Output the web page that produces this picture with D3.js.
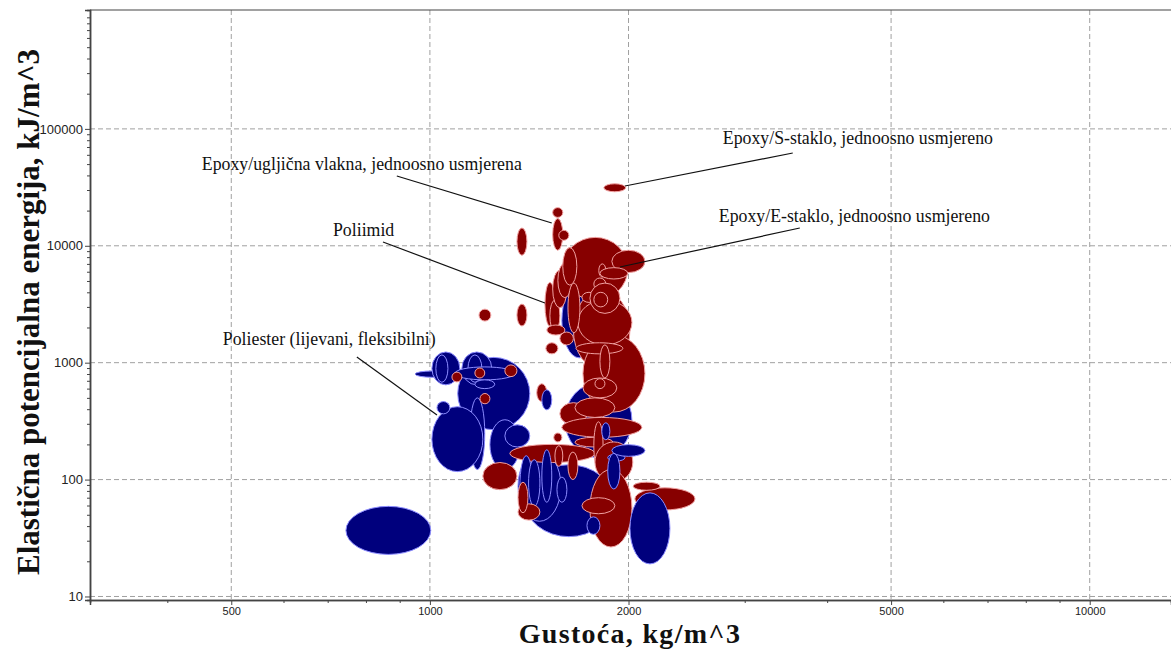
<!DOCTYPE html>
<html>
<head>
<meta charset="utf-8">
<script src="https://cdnjs.cloudflare.com/ajax/libs/d3/7.8.5/d3.min.js"></script>
<style>
  body { margin: 0; background: #fff; }
</style>
</head>
<body>
<script>
// ** Bubbles: density range (kg/m^3), energy range (kJ/m^3), family. Drawing order = array order.
var family = ['b','b','b','b','b','b','b','b','b','b','b','b','b','b',
  'r','r','r','r','r','r','b','r','r','r','r','r','r','r',
  'b','b','b','b','r','r','r','r','r','r','r','r','r','r','r','r','r','r','r','r','r','r','r','r','r','r','r','r','r','r','r','r','r','r','r','r','r','r','r','r','r','r',
  'b','b','b','b','b','b','b','b','b','b','r','r'];
var rhoLo = [746,1102,950,1007,1021,1118,1142,1091,1170,1150,1007,1233,1299,1025,
  1080,1170,1299,1191,1203,1452,1478,1355,1355,1187,1535,1535,1568,1835,
  1585,1602,1393,1360,1590,1650,1706,1676,1887,1494,1520,1535,1563,1590,1619,1504,1499,1574,1700,1803,1810,1772,1748,1772,1665,1810,1706,1779,1574,1659,1585,1659,1541,1322,1547,1619,1772,1779,1748,1700,2045,2033,1860,
  1860,1887,1822,2010,1369,1411,1478,1558,1730,1360,1360,1558];
var rhoHi = [1003,1417,1072,1110,1065,1241,1199,1345,1254,1211,1203,1369,1417,1072,
  1118,1211,1355,1233,1355,1504,1530,1403,1403,1237,1590,1590,1624,1980,
  1790,2024,1894,1580,1995,2010,2118,2024,2118,1547,1574,1613,1641,1670,1688,1602,1563,1650,1785,1848,1995,1848,1941,1860,1961,1874,1920,1842,1730,1907,2095,1894,1585,1779,1590,1676,1830,2030,2024,1907,2522,2232,1975,
  1941,2118,1874,2311,1431,1468,1530,1613,1810,1468,1408,1613];
var eLo = [22.9,267,750,646,680,646,680,713,600,122,117,122,190,365,
  685,740,760,445,82,465,395,8300,2060,2270,17500,9156,11140,29000,
  1100,154,32.5,44,3431,868,378,1418,5900,2060,1850,2950,3600,4606,1800,1725,1190,1418,3280,5400,5200,4175,2640,3000,1190,740,500,600,294,340,230,190,210,140,130,100,122,95,26.5,51,55,81,144,
  83,158,219,19,48,59,64,64,34,45,52,58];
var eHi = [59,1110,850,1235,1165,1235,1165,920,713,500,420,325,294,465,
  830,900,957,545,140,660,586,14200,3170,2870,21200,17100,13560,33900,
  4800,672,134,175,11800,4175,1725,3431,9156,4850,3431,6183,7100,9650,4800,2100,1480,1830,4000,7000,6500,5300,4800,4000,1480,1420,740,730,455,500,340,230,250,200,195,172,312,210,122,70,85,95,165,
  168,199,306,77,160,148,180,105,48,62,95,70];

// ** Labelled materials: label anchor and target, both in data units
var labelText = ['Epoxy/S-staklo, jednoosno usmjereno', 'Epoxy/E-staklo, jednoosno usmjereno',
  'Epoxy/uglji\u010dna vlakna, jednoosno usmjerena', 'Poliimid', 'Poliester (lijevani, fleksibilni)'];
var labelRho = [3548, 3636, 891, 849, 775];
var labelE = [62200, 14190, 39540, 10780, 1119];
var targetRho = [1975, 1941, 1530, 1494, 1025];
var targetE = [32480, 6588, 15670, 3241, 357];
var labelShift = [[-70, -9], [-81, -6], [-195, -6], [-50, -6], [-134, -12]];

// ** Ticks
var xMajor = [500, 1000, 2000, 5000, 10000];
var xMinor = [400, 600, 700, 800, 900, 3000, 4000, 6000, 7000, 8000, 9000];
var yMajor = [10, 100, 1000, 10000, 100000];
var yMinor = [];
[10, 100, 1000, 10000, 100000].forEach(function(d){
  for (var k = 2; k <= 9; k++) yMinor.push(d * k);
});

var W = 1171, H = 650;
var L = 90, R = 1171, T = 10, B = 600;

var svg = d3.select('body').append('svg')
  .attr('width', W).attr('height', H);

var x = d3.scaleLog().domain([305.4, 13280]).range([L, R]);
var y = d3.scaleLog().domain([9.33, 1.04e6]).range([B, T]);
var fill = d3.scaleOrdinal().domain(['b', 'r']).range(['#00007d', '#870000']);
var edge = d3.scaleOrdinal().domain(['b', 'r']).range(['#8c8cff', '#f0a0a0']);

//** Grid
var grid = svg.append('g').attr('stroke', '#a0a0a0').attr('stroke-dasharray', '5,3');
grid.selectAll('.gx').data(xMajor).enter().append('line')
  .attr('x1', function(d){ return x(d); }).attr('x2', function(d){ return x(d); })
  .attr('y1', T).attr('y2', B);
grid.selectAll('.gy').data(yMajor).enter().append('line')
  .attr('y1', function(d){ return y(d); }).attr('y2', function(d){ return y(d); })
  .attr('x1', L).attr('x2', R);

//** Bubbles
svg.append('g').selectAll('ellipse').data(family).enter().append('ellipse')
  .attr('cx', function(d, i){ return (x(rhoLo[i]) + x(rhoHi[i])) / 2; })
  .attr('cy', function(d, i){ return (y(eLo[i]) + y(eHi[i])) / 2; })
  .attr('rx', function(d, i){ return (x(rhoHi[i]) - x(rhoLo[i])) / 2; })
  .attr('ry', function(d, i){ return (y(eLo[i]) - y(eHi[i])) / 2; })
  .attr('fill', function(d){ return fill(d); })
  .attr('stroke', function(d){ return edge(d); })
  .attr('stroke-width', 1);

//** Annotations
var ann = svg.append('g');
ann.selectAll('line').data(labelText).enter().append('line')
  .attr('x1', function(d, i){ return x(labelRho[i]); })
  .attr('y1', function(d, i){ return y(labelE[i]); })
  .attr('x2', function(d, i){ return x(targetRho[i]); })
  .attr('y2', function(d, i){ return y(targetE[i]); })
  .attr('stroke', '#111').attr('stroke-width', 1.2);
ann.selectAll('text').data(labelText).enter().append('text')
  .attr('x', function(d, i){ return x(labelRho[i]) + labelShift[i][0]; })
  .attr('y', function(d, i){ return y(labelE[i]) + labelShift[i][1]; })
  .attr('font-family', '"Liberation Serif", "Times New Roman", serif')
  .attr('font-size', '17.8px')
  .attr('fill', '#111')
  .text(function(d){ return d; });

//** Axes
var axisFont = '"Liberation Sans", Arial, sans-serif';
svg.append('g').attr('class', 'yax').attr('transform', 'translate(' + L + ',0)')
  .call(d3.axisLeft(y).tickValues(yMajor).tickFormat(d3.format('d')).tickSize(5).tickPadding(2));
svg.append('g').attr('transform', 'translate(' + L + ',0)')
  .call(d3.axisLeft(y).tickValues(yMinor).tickFormat('').tickSize(3));
svg.append('g').attr('class', 'xax').attr('transform', 'translate(0,' + B + ')')
  .call(d3.axisBottom(x).tickValues(xMajor).tickFormat(d3.format('d')).tickSize(5).tickPadding(2));
svg.append('g').attr('transform', 'translate(0,' + B + ')')
  .call(d3.axisBottom(x).tickValues(xMinor).tickFormat('').tickSize(3));
svg.selectAll('.domain, .tick line').attr('stroke', '#444');
svg.selectAll('.domain').attr('stroke-width', 1.5);
svg.selectAll('.tick text').attr('font-family', axisFont).attr('fill', '#222');
svg.selectAll('.yax .tick text').attr('font-size', '13px');
svg.selectAll('.xax .tick text').attr('font-size', '11px');

// ** Top frame line
svg.append('line').attr('x1', L).attr('x2', R).attr('y1', T).attr('y2', T)
  .attr('stroke', '#444').attr('stroke-width', 1.2);

//** Axis titles
svg.append('text')
  .attr('x', 630).attr('y', 643)
  .attr('text-anchor', 'middle')
  .attr('font-family', '"Liberation Serif", "Times New Roman", serif')
  .attr('font-weight', 'bold').attr('font-size', '28px')
  .attr('letter-spacing', '1.3px').attr('fill', '#111')
  .text('Gusto\u0107a, kg/m^3');
svg.append('text')
  .attr('transform', 'translate(39,' + 312 + ') rotate(-90)')
  .attr('text-anchor', 'middle')
  .attr('font-family', '"Liberation Serif", "Times New Roman", serif')
  .attr('font-weight', 'bold').attr('font-size', '31px').attr('fill', '#111')
  .text('Elasti\u010dna potencijalna energija, kJ/m^3');
</script>
</body>
</html>
